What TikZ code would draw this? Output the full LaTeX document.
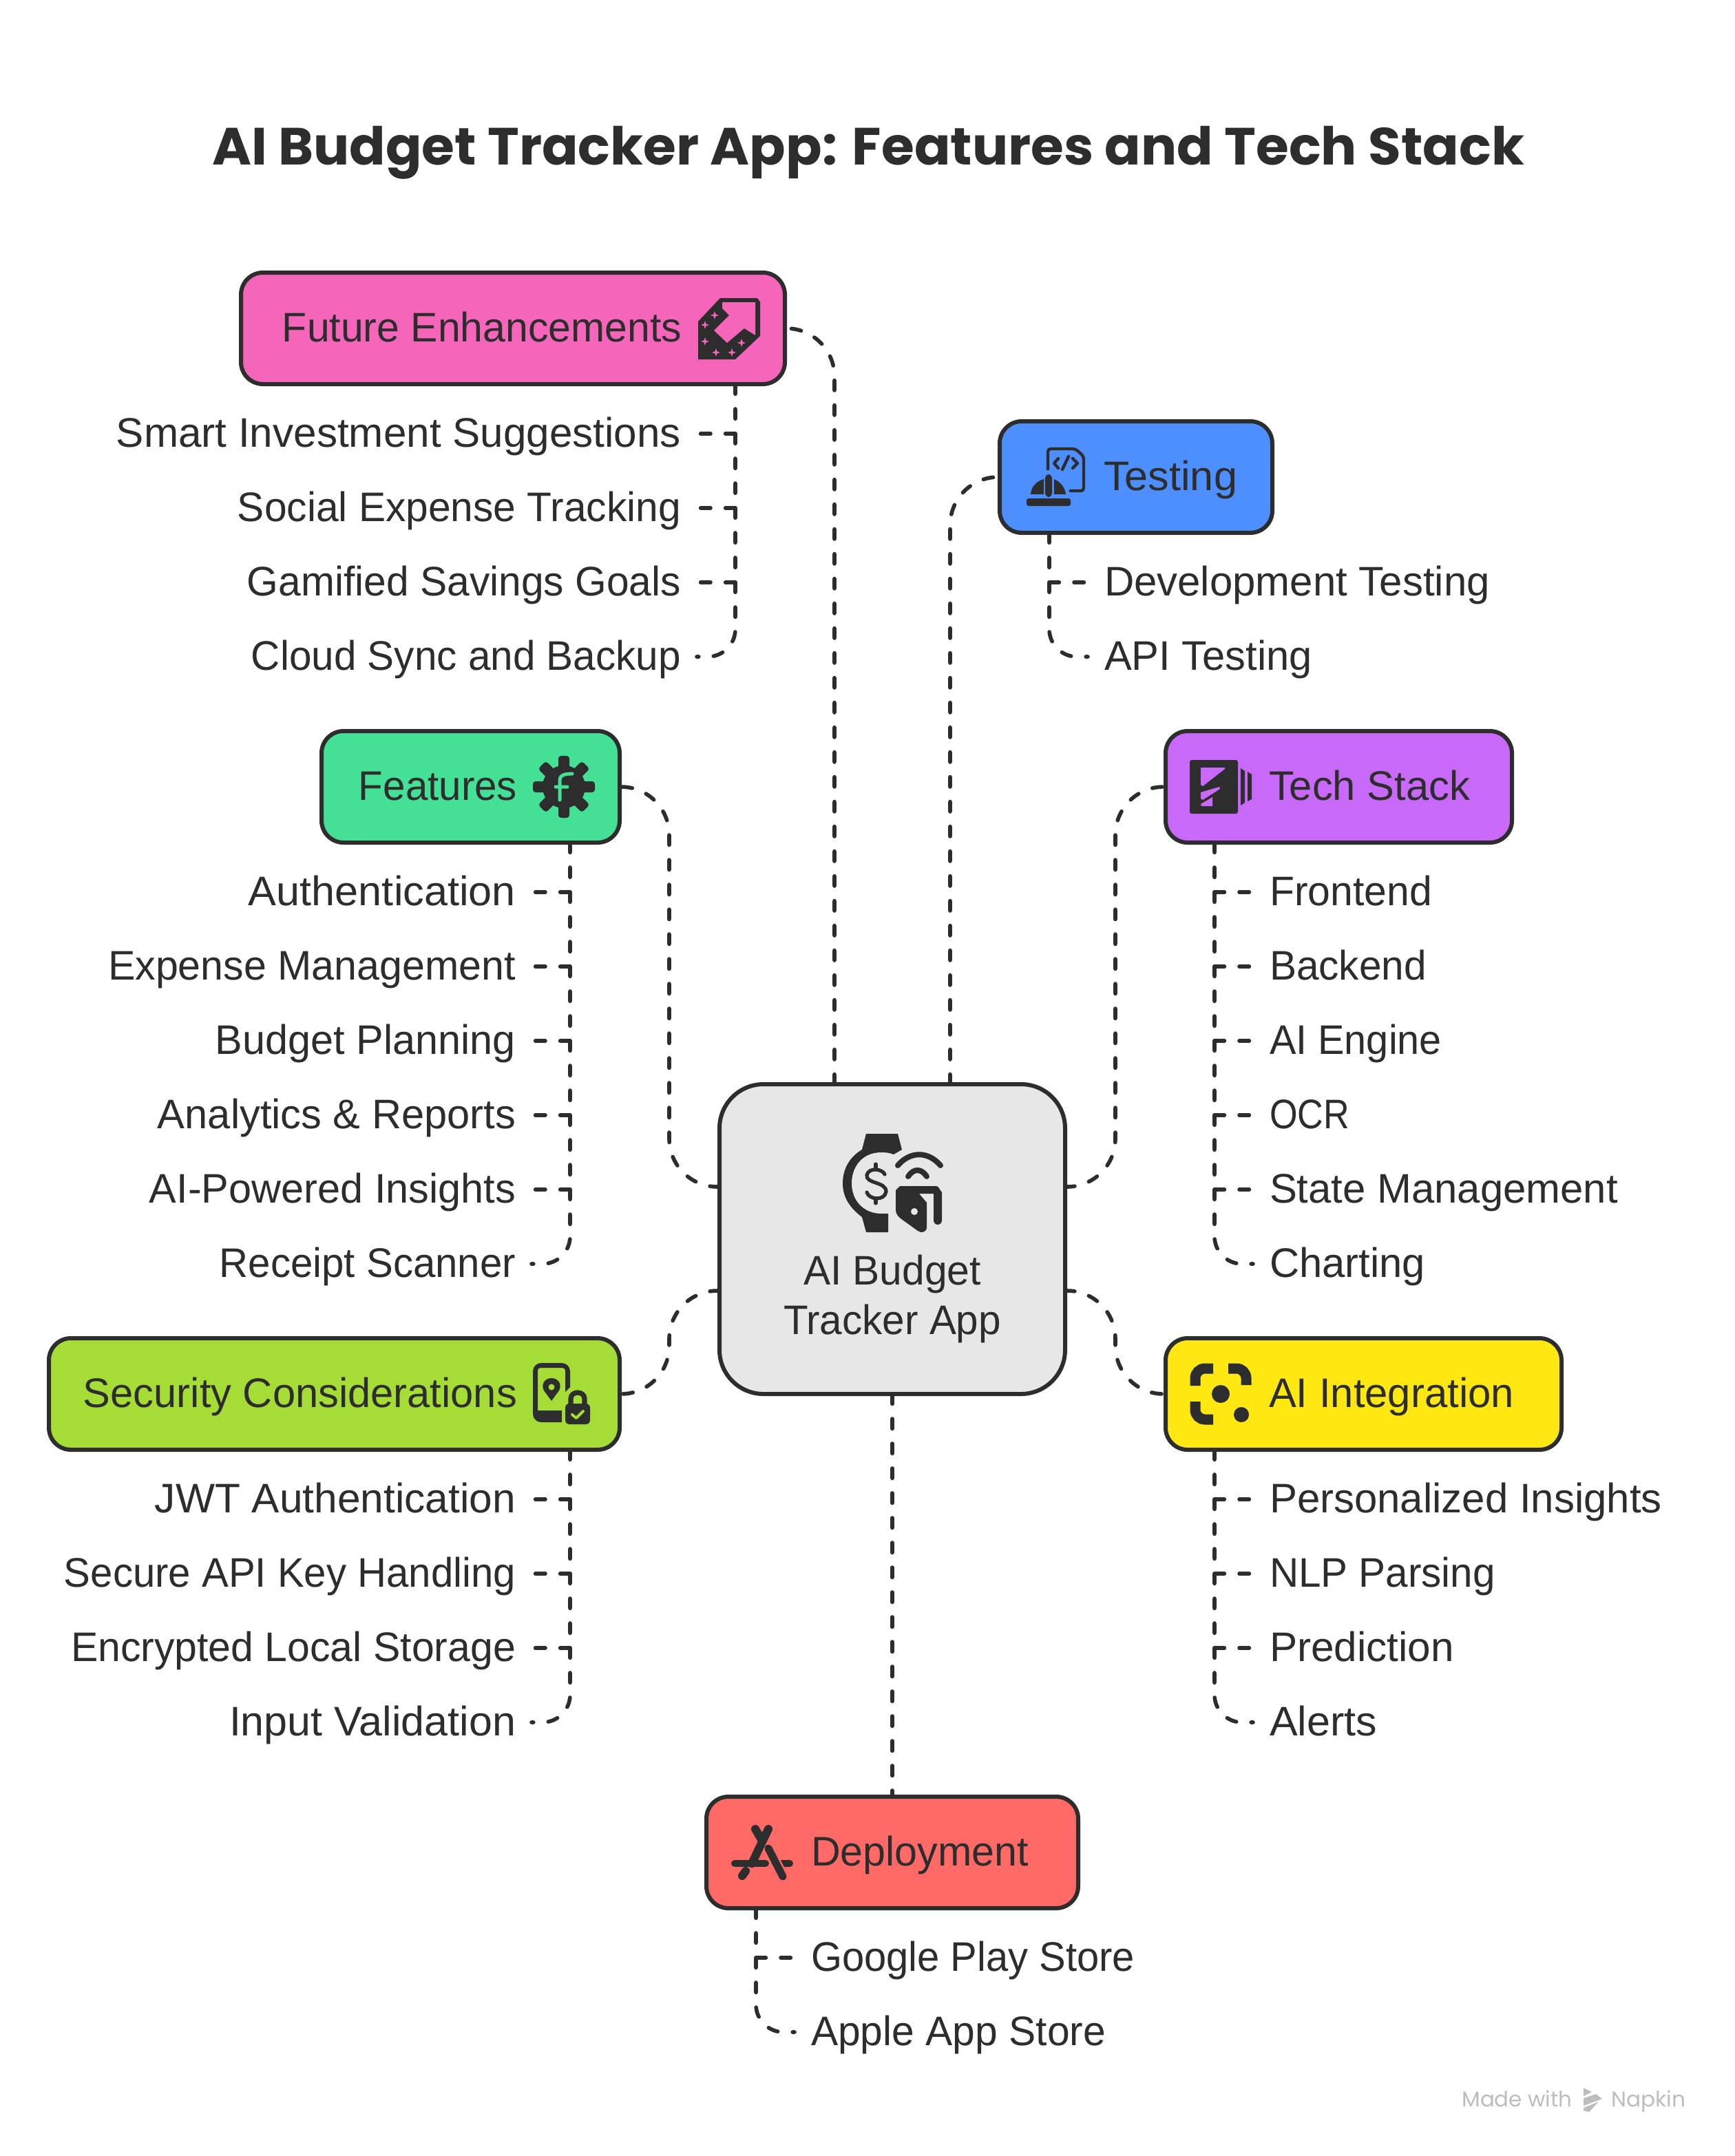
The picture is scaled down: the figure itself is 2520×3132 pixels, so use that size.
\documentclass[tikz,border=0pt]{standalone}
\usepackage{fontspec}
\usepackage{graphicx}
\setmainfont{Liberation Sans}
\newfontfamily\titlefont[WordSpace=1.5]{Poppins}
\newfontfamily\markfont{Poppins}
\usetikzlibrary{backgrounds}
\newcommand{\fitt}[2]{\resizebox{#1pt}{\height}{#2}}
\definecolor{ink}{HTML}{2D2D2D}
\definecolor{cpink}{HTML}{F565B9}
\definecolor{cblue}{HTML}{4D8FFF}
\definecolor{cgreen}{HTML}{44E095}
\definecolor{cpurple}{HTML}{C969F9}
\definecolor{clime}{HTML}{A5DC36}
\definecolor{cyellow}{HTML}{FFE711}
\definecolor{cred}{HTML}{FF6966}
\definecolor{cgrey}{HTML}{E7E7E7}
\definecolor{cmark}{HTML}{BDBDBD}
\tikzset{
  boxnode/.style={draw=ink,line width=3pt,rounded corners=16pt,inner sep=0pt,outer sep=0pt,minimum height=81pt},
  txt/.style={text=ink,font=\fontsize{30pt}{36pt}\selectfont,inner ysep=0pt,inner xsep=0pt,outer sep=0pt,text height=22pt,text depth=3pt},
  leafL/.style={txt,anchor=east,inner xsep=11.5pt},
  leafR/.style={txt,anchor=west,inner xsep=12pt},
  headL/.style={txt,anchor=east},
  headR/.style={txt,anchor=west},
  dashline/.style={draw=ink,line width=2.8pt,line cap=round,dash pattern=on 7.2pt off 10.8pt},
  mainline/.style={dashline,rounded corners=35pt},
  lastline/.style={dashline,rounded corners=20pt},
}
\begin{document}
\begin{tikzpicture}[x=.5pt,y=-.5pt]
\path[use as bounding box] (0,0) rectangle (2520,3132);

\node[anchor=base,text=ink,inner sep=0pt,font=\titlefont\bfseries\fontsize{38pt}{44pt}\selectfont] (title) at (1261,239) {\fitt{953}{AI Budget Tracker App: Features and Tech Stack}};

% boxes
\node[boxnode,fill=cgrey,minimum width=251pt,minimum height=225pt,rounded corners=32pt] (cen) at (1296,1800) {};
\node[boxnode,fill=cpink,minimum width=395pt] (fut) at (745,477) {};
\node[boxnode,fill=cblue,minimum width=198pt] (tst) at (1650,693) {};
\node[boxnode,fill=cgreen,minimum width=216.5pt] (fea) at (683.5,1143) {};
\node[boxnode,fill=cpurple,minimum width=251.5pt] (tec) at (1944.5,1143) {};
\node[boxnode,fill=clime,minimum width=414.5pt] (sec) at (485.5,2025) {};
\node[boxnode,fill=cyellow,minimum width=287.5pt] (ain) at (1980.5,2025) {};
\node[boxnode,fill=cred,minimum width=270pt] (dep) at (1296,2691) {};

% box labels
\node[txt,align=center,text height=22pt,text depth=6pt] (cenL) at (1296,1922) {\fitt{129}{AI Budget}\\\fitt{158}{Tracker App}};
\node[headL] (futL) at (990,477) {\fitt{290}{Future Enhancements}};
\node[headR] (tstL) at (1603,693) {\fitt{97}{Testing}};
\node[headL] (feaL) at (751,1143) {\fitt{115}{Features}};
\node[headR] (tecL) at (1843,1143) {\fitt{146}{Tech Stack}};
\node[headL] (secL) at (751,2025) {\fitt{315}{Security Considerations}};
\node[headR] (ainL) at (1843,2025) {\fitt{178}{AI Integration}};
\node[headR] (depL) at (1178,2691) {\fitt{158}{Deployment}};

% leaves
\node[leafL] (f1) at (1012,630) {\fitt{410}{Smart Investment Suggestions}};
\node[leafL] (f2) at (1012,738) {\fitt{322}{Social Expense Tracking}};
\node[leafL] (f3) at (1012,846) {\fitt{315}{Gamified Savings Goals}};
\node[leafL] (f4) at (1012,954) {\fitt{312}{Cloud Sync and Backup}};
\node[leafR] (t1) at (1580,846) {\fitt{280}{Development Testing}};
\node[leafR] (t2) at (1580,954) {\fitt{151}{API Testing}};
\node[leafL] (a1) at (772,1296) {\fitt{194}{Authentication}};
\node[leafL] (a2) at (772,1404) {\fitt{296}{Expense Management}};
\node[leafL] (a3) at (772,1512) {\fitt{218}{Budget Planning}};
\node[leafL] (a4) at (772,1620) {\fitt{260}{Analytics \& Reports}};
\node[leafL] (a5) at (772,1728) {\fitt{266}{AI-Powered Insights}};
\node[leafL] (a6) at (772,1836) {\fitt{215}{Receipt Scanner}};
\node[leafR] (k1) at (1820,1296) {\fitt{118}{Frontend}};
\node[leafR] (k2) at (1820,1404) {\fitt{114}{Backend}};
\node[leafR] (k3) at (1820,1512) {\fitt{125}{AI Engine}};
\node[leafR] (k4) at (1820,1620) {\fitt{58}{OCR}};
\node[leafR] (k5) at (1820,1728) {\fitt{253}{State Management}};
\node[leafR] (k6) at (1820,1836) {\fitt{113}{Charting}};
\node[leafL] (s1) at (772,2178) {\fitt{262}{JWT Authentication}};
\node[leafL] (s2) at (772,2286) {\fitt{328}{Secure API Key Handling}};
\node[leafL] (s3) at (772,2394) {\fitt{323}{Encrypted Local Storage}};
\node[leafL] (s4) at (772,2502) {\fitt{208}{Input Validation}};
\node[leafR] (i1) at (1820,2178) {\fitt{285}{Personalized Insights}};
\node[leafR] (i2) at (1820,2286) {\fitt{164}{NLP Parsing}};
\node[leafR] (i3) at (1820,2394) {\fitt{134}{Prediction}};
\node[leafR] (i4) at (1820,2502) {\fitt{78}{Alerts}};
\node[leafR] (d1) at (1154,2844) {\fitt{235}{Google Play Store}};
\node[leafR] (d2) at (1154,2952) {\fitt{214}{Apple App Store}};

% connector ends
\coordinate (cFut) at (1212,1575);
\coordinate (cTst) at (1380,1575);
\coordinate (cFea) at (1045.5,1724);
\coordinate (cTec) at (1546.5,1724);
\coordinate (cSec) at (1045.5,1875);
\coordinate (cAin) at (1546.5,1875);
\coordinate (vL) at (972,1800);
\coordinate (vR) at (1620,1800);
\coordinate (tFut) at (1068,558);
\coordinate (tTst) at (1524,774);
\coordinate (tFea) at (828,1224);
\coordinate (tTec) at (1764,1224);
\coordinate (tSec) at (828,2106);
\coordinate (tAin) at (1764,2106);
\coordinate (tDep) at (1098,2772);

\begin{scope}[on background layer]
\path[fill=white] (0,0) rectangle (2520,3132);
\draw[mainline] (cFut) |- (fut.east);
\draw[mainline] (cTst) |- (tst.west);
\draw[mainline] (cFea) -- (cFea -| vL) -- (vL |- fea.east) -- (fea.east);
\draw[mainline] (cTec) -- (cTec -| vR) -- (vR |- tec.west) -- (tec.west);
\draw[mainline] (cSec) -- (cSec -| vL) -- (vL |- sec.east) -- (sec.east);
\draw[mainline] (cAin) -- (cAin -| vR) -- (vR |- ain.west) -- (ain.west);
\draw[dashline] (cen.south) -- (dep.north);

\draw[lastline] (tFut) |- (f4.east);
\foreach \n in {f1,f2,f3} \draw[dashline] (tFut |- \n.east) -- (\n.east);
\draw[lastline] (tTst) |- (t2.west);
\draw[dashline] (tTst |- t1.west) -- (t1.west);
\draw[lastline] (tFea) |- (a6.east);
\foreach \n in {a1,a2,a3,a4,a5} \draw[dashline] (tFea |- \n.east) -- (\n.east);
\draw[lastline] (tTec) |- (k6.west);
\foreach \n in {k1,k2,k3,k4,k5} \draw[dashline] (tTec |- \n.west) -- (\n.west);
\draw[lastline] (tSec) |- (s4.east);
\foreach \n in {s1,s2,s3} \draw[dashline] (tSec |- \n.east) -- (\n.east);
\draw[lastline] (tAin) |- (i4.west);
\foreach \n in {i1,i2,i3} \draw[dashline] (tAin |- \n.west) -- (\n.west);
\draw[lastline] (tDep) |- (d2.west);
\draw[dashline] (tDep |- d1.west) -- (d1.west);
\end{scope}

% ---------- icons ----------
% future
\fill[ink] (1046,433) -- (1099,433) to[out=0,in=-90] (1104,438) -- (1104,488) -- (1068,522) -- (1014,522) -- (1014,467) -- cycle;
\fill[cpink] (1049,439) -- (1097,439) -- (1097,487) -- (1081,477) -- (1056,498) -- (1037,480) -- (1059,458) -- (1049,448) -- cycle;
\foreach \p in {(1038,458),(1024,472),(1024,496),(1040,512),(1063,512),(1077,498)}
  \fill[cpink] \p +(0,-6) -- +(1.5,-1.5) -- +(6,0) -- +(1.5,1.5) -- +(0,6) -- +(-1.5,1.5) -- +(-6,0) -- +(-1.5,-1.5) -- cycle;

% centre: watch
\fill[ink] (1258,1647) -- (1304,1647) -- (1310,1670) -- (1298,1677) .. controls (1290,1674) and (1285,1674) .. (1280,1674) .. controls (1252,1674) and (1237,1695) .. (1237,1719) .. controls (1237,1745) and (1255,1763) .. (1280,1763) -- (1290,1763) -- (1290,1790) -- (1258,1790) -- (1252,1768) .. controls (1235,1755) and (1224,1740) .. (1224,1719) .. controls (1224,1697) and (1235,1680) .. (1252,1670) -- cycle;
\draw[ink,line width=2.6pt,line cap=round] (1285,1706) .. controls (1282,1698) and (1262,1695) .. (1259,1707) .. controls (1257,1720) and (1287,1716) .. (1287,1731) .. controls (1285,1745) and (1262,1743) .. (1259,1732);
\draw[ink,line width=2.6pt,line cap=round] (1272,1691) -- (1272,1697) (1272,1741) -- (1272,1748);
\draw[ink,line width=4pt,line cap=round] (1304,1693) .. controls (1322,1672) and (1348,1672) .. (1366,1693);
\draw[ink,line width=4pt,line cap=round] (1319,1709) .. controls (1327,1697) and (1338,1697) .. (1346,1709);
\fill[ink] (1307,1723) -- (1360,1723) to[out=0,in=-90] (1368,1731) -- (1368,1773) arc[start angle=0,end angle=180,radius=6] -- (1356,1734) -- (1335,1734) -- (1346,1747) -- (1346,1783) .. controls (1346,1790) and (1338,1792) .. (1333,1788) -- (1308,1770) .. controls (1303,1766) and (1301,1762) .. (1301,1757) -- (1301,1729) -- cycle;
\fill[cgrey] (1328,1760) circle[radius=5];

% testing
\draw[ink,line width=2.2pt,rounded corners=2pt] (1522,683) -- (1522,652) -- (1562,652) -- (1574,663) -- (1574,713) -- (1553,713);
\draw[ink,line width=2.2pt,line cap=round,line join=round] (1537,666) -- (1531,673) -- (1537,680) (1552,663) -- (1543,682) (1558,666) -- (1565,673) -- (1558,680);
\fill[ink,rounded corners=1.5pt] (1491,724) rectangle (1555,735);
\fill[ink,rounded corners=3pt] (1518,689) rectangle (1528,722);
\fill[ink] (1497,718) .. controls (1498,706) and (1506,699) .. (1516,696) -- (1516,718) -- cycle;
\fill[ink] (1548,718) .. controls (1547,708) and (1540,700) .. (1531,696) -- (1531,718) -- cycle;

% features gear
\foreach \a in {0,45,...,315}
  \fill[ink,rounded corners=2pt,rotate around={\a:(819,1143)}] (811,1098) rectangle (827,1143);
\fill[ink] (819,1143) circle[radius=31];
\draw[cgreen,line width=2.5pt,line cap=round] (813,1162) -- (813,1134) .. controls (813,1126) and (820,1124) .. (831,1124) (807,1143) -- (824,1143);

% tech stack
\fill[ink,rounded corners=1.5pt] (1728,1104) rectangle (1798,1182);
\fill[cpurple] (1744,1115) -- (1779,1115) -- (1779,1117) -- (1747,1142) -- (1744,1140) -- cycle;
\fill[cpurple] (1744,1151) -- (1771,1143) -- (1772,1146) -- (1747,1162) -- (1744,1160) -- cycle;
\fill[cpurple] (1744,1168) -- (1761,1158) -- (1761,1171) -- (1745,1171) -- cycle;
\fill[ink] (1802,1116) -- (1808,1120) -- (1808,1166) -- (1802,1170) -- cycle;
\fill[ink] (1812,1121) -- (1818,1125) -- (1818,1161) -- (1812,1164) -- cycle;

% security
\fill[ink] (828,2015) [rounded corners=6pt] -- (828,1980) -- (774,1980) -- (774,2066) [sharp corners] -- (816,2066) -- (816,2049) -- (781,2049) [rounded corners=2pt] -- (781,1987) -- (821,1987) [sharp corners] -- (821,2022) -- cycle;
\fill[ink] (801,2035) -- (790,2020) .. controls (785,2010) and (792,2002) .. (801,2002) .. controls (810,2002) and (817,2010) .. (812,2020) -- cycle;
\fill[clime] (801,2015) circle[radius=4.5];
\fill[ink,rounded corners=3pt] (821,2039) rectangle (857,2069);
\draw[ink,line width=3.6pt] (829,2042) -- (829,2032) .. controls (829,2026) and (834,2023) .. (839,2023) .. controls (844,2023) and (849,2026) .. (849,2032) -- (849,2042);
\draw[clime,line width=2pt,line cap=round,line join=round] (831,2055) -- (837,2060) -- (847,2050);

% AI integration
\draw[ink,line width=7.5pt,rounded corners=7pt] (1736,2013) |- (1762,1988);
\draw[ink,line width=7.5pt,rounded corners=7pt] (1784,1988) -| (1810,2012);
\draw[ink,line width=7.5pt,rounded corners=7pt] (1736,2036) |- (1762,2062);
\fill[ink] (1773,2025) circle[radius=13];
\fill[ink] (1803,2055) circle[radius=11];

% deployment
\draw[ink,line width=5pt,line cap=round] (1067,2707) -- (1112,2707) (1128,2707) -- (1147,2707);
\draw[cred,line width=8pt] (1116,2685) -- (1137,2726);
\draw[ink,line width=6pt,line cap=round] (1116,2657) -- (1092,2707);
\draw[ink,line width=6pt,line cap=round] (1097,2657) -- (1107,2674);
\draw[ink,line width=5.5pt,line cap=round] (1116,2685) -- (1137,2726);
\draw[ink,line width=6pt,line cap=round] (1078,2725) -- (1083,2718);

% watermark
\node[anchor=base west,inner sep=0pt,text=cmark,font=\markfont\fontsize{15.5pt}{18pt}\selectfont] (mw) at (2123,3060) {\fitt{80}{Made with}};
\node[anchor=base west,inner sep=0pt,text=cmark,font=\markfont\fontsize{15.5pt}{18pt}\selectfont] (mn) at (2340,3060) {\fitt{54}{Napkin}};
\fill[cmark] (2300,3033) -- (2312,3039) -- (2300,3045) -- cycle;
\fill[cmark] (2300,3048) -- (2318,3042) -- (2327,3049) -- (2300,3059) -- cycle;
\fill[cmark] (2300,3062) -- (2322,3053) -- (2308,3068) -- (2300,3066) -- cycle;
\end{tikzpicture}
\end{document}
